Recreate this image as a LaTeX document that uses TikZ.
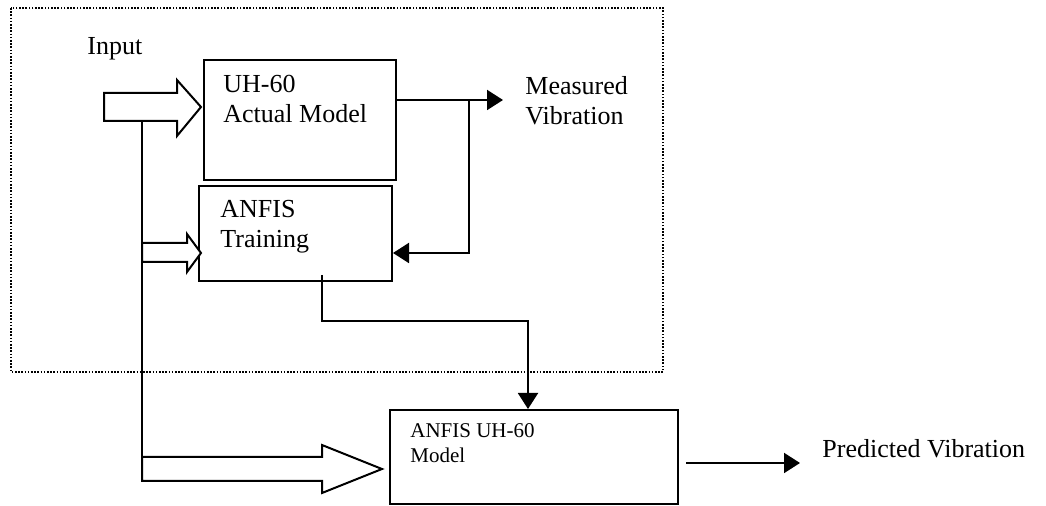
\documentclass[tikz,border=0pt]{standalone}
\usepackage{fontspec}
\setmainfont{Liberation Serif}
\usetikzlibrary{arrows.meta}
\begin{document}
\begin{tikzpicture}[x=0.5pt,y=-0.5pt,
  box/.style={draw,line width=1pt,inner sep=0pt,anchor=north west},
  lbl/.style={anchor=base west,inner sep=0pt,font=\fontsize{13}{15}\selectfont},
  slbl/.style={anchor=base west,inner sep=0pt,font=\fontsize{10.5}{12.5}\selectfont},
  conn/.style={line width=1pt},
  tip/.style={-{Triangle[length=8pt,width=10pt]}},
  block/.style={draw,line width=1pt,fill=white,line join=miter},
  frame/.style={draw,line width=0.8pt,dash pattern=on 0.8pt off 0.8pt}]
\useasboundingbox (0,0) rectangle (1046,506);
% dotted frame
\draw[frame] (11,8) rectangle (663,372);
% boxes
\node[box,minimum width=96pt,minimum height=60pt] (uh) at (203,59) {};
\node[box,minimum width=96.5pt,minimum height=47.5pt] (tr) at (198,185) {};
\node[box,minimum width=144pt,minimum height=47pt] (model) at (389,409) {};
% texts
\node[lbl] (input) at (87,55) {Input};
\node[lbl] (uh1) at (223,93) {UH-60};
\node[lbl] (uh2) at (223,123) {Actual Model};
\node[lbl] (tr1) at (220,218) {ANFIS};
\node[lbl] (tr2) at (220,248) {Training};
\node[lbl] (mv1) at (525,95) {Measured};
\node[lbl] (mv2) at (525,125) {Vibration};
\node[slbl] (m1) at (410,438) {ANFIS UH-60};
\node[slbl] (m2) at (410,463) {Model};
\node[lbl] (pv) at (822,458) {Predicted Vibration};
% coordinates
\coordinate (split) at (142,121);
\coordinate (splitend) at (142,481);
\coordinate (mvend) at (503,100);
\coordinate (fb) at (469,100);
\coordinate (trout) at (322,275);
\coordinate (pvstart) at (686,463);
\coordinate (pvend) at (800,463);
% input vertical line
\draw[conn] (split) -- (splitend);
% block arrows
\draw[block] (104,93) -- (177,93) -- (177,80) -- (201,107) -- (177,136) -- (177,121) -- (104,121) -- cycle;
\draw[block] (142,243) -- (187,243) -- (187,234) -- (201,253) -- (187,272) -- (187,262) -- (142,262) -- cycle;
\draw[block] (142,457) -- (322,457) -- (322,445) -- (382,469) -- (322,493) -- (322,481) -- (142,481) -- cycle;
% connectors
\draw[conn,tip] (uh.east |- mvend) -- (mvend);
\draw[conn,tip] (fb) -- (fb |- 0,253) -- (tr.east |- 0,253);
\draw[conn,tip] (trout) -- (322,321) -- (528,321) -- (model.north -| 528,0);
\draw[conn,tip] (pvstart) -- (pvend);
\end{tikzpicture}
\end{document}
